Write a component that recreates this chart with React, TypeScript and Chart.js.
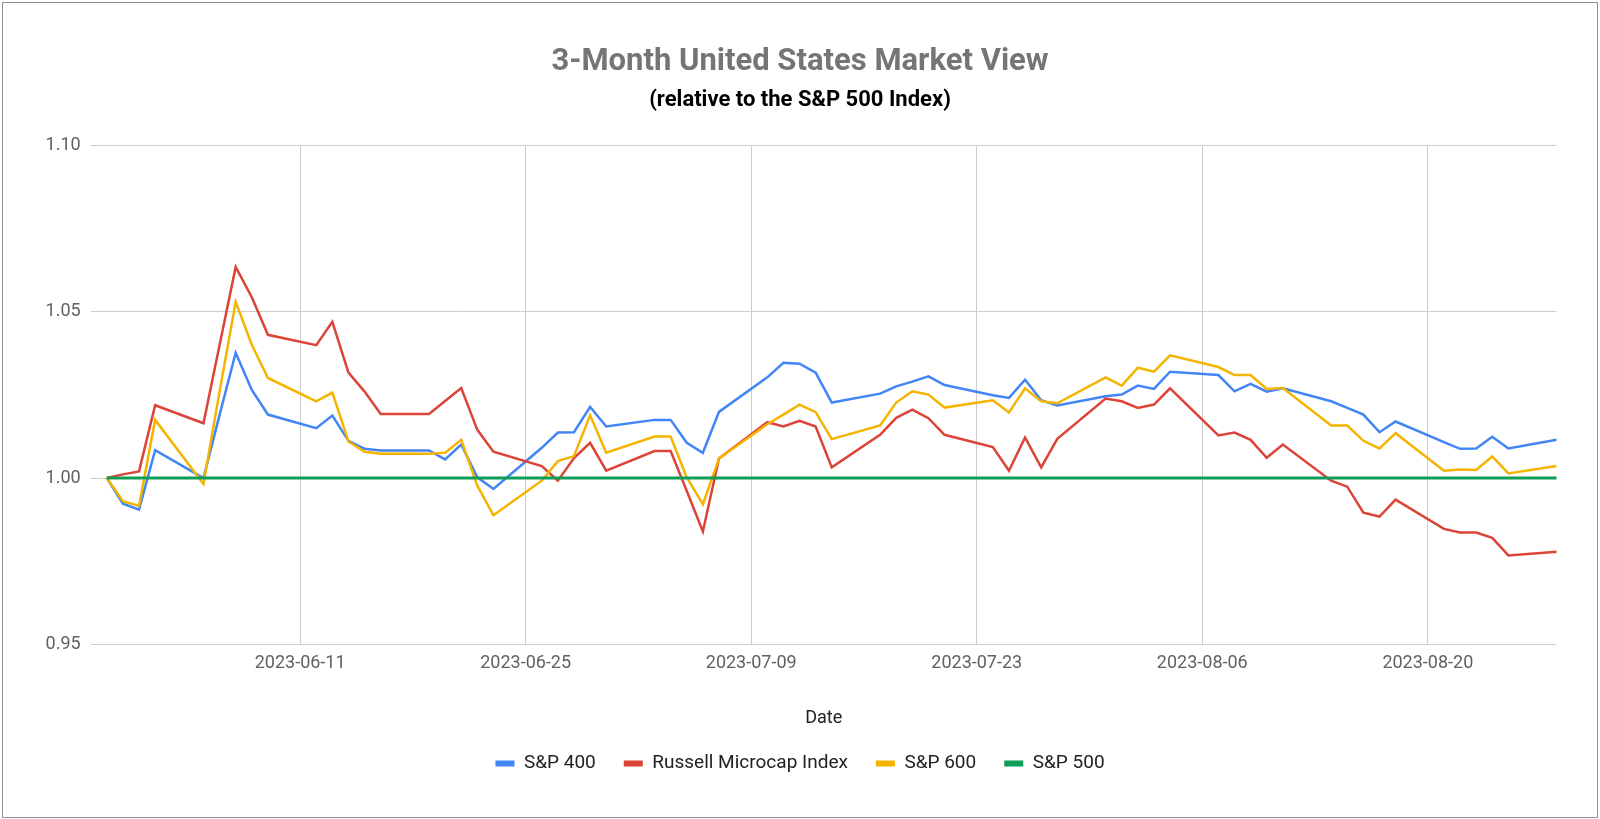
import React, { useEffect, useRef } from "react";
import { Chart, registerables } from "chart.js";

Chart.register(...registerables);

const TITLE = "3-Month United States Market View";
const SUBTITLE = "(relative to the S&P 500 Index)";
const X_TITLE = "Date";

const DATES = [
  "2023-05-30", "2023-05-31", "2023-06-01", "2023-06-02", "2023-06-05", "2023-06-06",
  "2023-06-07", "2023-06-08", "2023-06-09", "2023-06-12", "2023-06-13", "2023-06-14",
  "2023-06-15", "2023-06-16", "2023-06-19", "2023-06-20", "2023-06-21", "2023-06-22",
  "2023-06-23", "2023-06-26", "2023-06-27", "2023-06-28", "2023-06-29", "2023-06-30",
  "2023-07-03", "2023-07-04", "2023-07-05", "2023-07-06", "2023-07-07", "2023-07-10",
  "2023-07-11", "2023-07-12", "2023-07-13", "2023-07-14", "2023-07-17", "2023-07-18",
  "2023-07-19", "2023-07-20", "2023-07-21", "2023-07-24", "2023-07-25", "2023-07-26",
  "2023-07-27", "2023-07-28", "2023-07-31", "2023-08-01", "2023-08-02", "2023-08-03",
  "2023-08-04", "2023-08-07", "2023-08-08", "2023-08-09", "2023-08-10", "2023-08-11",
  "2023-08-14", "2023-08-15", "2023-08-16", "2023-08-17", "2023-08-18", "2023-08-21",
  "2023-08-22", "2023-08-23", "2023-08-24", "2023-08-25", "2023-08-28",
];

const SP400 = [
  1.0, 0.9923, 0.9905, 1.0084, 1.0, 1.019,
  1.0377, 1.0265, 1.0191, 1.015, 1.0188, 1.0112,
  1.0088, 1.0083, 1.0083, 1.0056, 1.0101, 1.0002,
  0.9967, 1.0091, 1.0137, 1.0138, 1.0214, 1.0155,
  1.0175, 1.0175, 1.0106, 1.0076, 1.0199, 1.0303,
  1.0347, 1.0344, 1.0317, 1.0227, 1.0254, 1.0276,
  1.029, 1.0306, 1.028, 1.0249, 1.0241, 1.0296,
  1.0234, 1.0218, 1.0246, 1.0251, 1.0278, 1.0268,
  1.032, 1.031, 1.0261, 1.0283, 1.026, 1.027,
  1.0231, 1.0211, 1.0191, 1.0138, 1.017, 1.0108,
  1.0088, 1.0089, 1.0124, 1.0089, 1.0115,
];

const RUSSELL_MICRO = [
  1.0, 1.0011, 1.002, 1.0219, 1.0165, 1.04,
  1.0635, 1.0544, 1.0431, 1.04, 1.047, 1.0317,
  1.026, 1.0193, 1.0193, 1.0232, 1.0271, 1.0145,
  1.0079, 1.0036, 0.9992, 1.006, 1.0106, 1.0022,
  1.0081, 1.0081, 0.9961, 0.9839, 1.0059, 1.0168,
  1.0155, 1.0172, 1.0155, 1.0032, 1.013, 1.0181,
  1.0206, 1.018, 1.013, 1.0093, 1.0022, 1.0122,
  1.0032, 1.0118, 1.0239, 1.0231, 1.0211, 1.0221,
  1.027, 1.0128, 1.0137, 1.0115, 1.0061, 1.0101,
  0.9992, 0.9974, 0.9896, 0.9884, 0.9935, 0.9847,
  0.9836, 0.9836, 0.982, 0.9767, 0.9778,
];

const SP600 = [
  1.0, 0.993, 0.9916, 1.0175, 0.9982, 1.026,
  1.053, 1.0401, 1.0301, 1.0231, 1.0257, 1.011,
  1.0079, 1.0073, 1.0073, 1.0076, 1.0115, 0.9977,
  0.9888, 0.9992, 1.0051, 1.0066, 1.0189, 1.0076,
  1.0125, 1.0125, 1.0002, 0.9921, 1.0059, 1.0162,
  1.0191, 1.0221, 1.0198, 1.0117, 1.0158, 1.0227,
  1.0261, 1.0251, 1.0212, 1.0234, 1.0197, 1.027,
  1.0231, 1.0225, 1.0303, 1.0278, 1.0332, 1.032,
  1.0369, 1.0334, 1.031, 1.031, 1.0268, 1.0271,
  1.0158, 1.0158, 1.0112, 1.0089, 1.0135, 1.0022,
  1.0026, 1.0024, 1.0065, 1.0014, 1.0036,
];

const SP500 = [
  1, 1, 1, 1, 1, 1, 1, 1, 1, 1, 1, 1, 1, 1, 1, 1, 1, 1, 1, 1, 1, 1,
  1, 1, 1, 1, 1, 1, 1, 1, 1, 1, 1, 1, 1, 1, 1, 1, 1, 1, 1, 1, 1, 1,
  1, 1, 1, 1, 1, 1, 1, 1, 1, 1, 1, 1, 1, 1, 1, 1, 1, 1, 1, 1, 1,
];

const SERIES_NAMES = ["S&P 400", "Russell Microcap Index", "S&P 600", "S&P 500"];
const SERIES_COLORS = ["#4285F4", "#DB4437", "#F4B400", "#0F9D58"];

const TICK_LABELS = ["2023-06-11", "2023-06-25", "2023-07-09", "2023-07-23", "2023-08-06", "2023-08-20"];
const X_MIN_DATE = "2023-05-29";
const X_MAX_DATE = "2023-08-28";
const Y_TICKS = [0.95, 1.0, 1.05, 1.1];

const DAY_MS = 86400000;
const BASE = Date.UTC(2023, 4, 30);
const dayOf = (s: string) => Math.round((Date.parse(s + "T00:00:00Z") - BASE) / DAY_MS);
const labelOf = (d: number) => new Date(BASE + Math.round(d) * DAY_MS).toISOString().slice(0, 10);

export default function App() {
  const ref = useRef<HTMLCanvasElement | null>(null);

  useEffect(() => {
    if (!ref.current) return;
    Chart.defaults.font.family = "Roboto";
    const seriesValues = [SP400, RUSSELL_MICRO, SP600, SP500];
    const orders = [3, 2, 1, 0];
    const datasets = seriesValues.map((vals, i) => ({
      label: SERIES_NAMES[i],
      data: vals.map((v, j) => ({ x: dayOf(DATES[j]), y: v })),
      borderColor: SERIES_COLORS[i],
      backgroundColor: SERIES_COLORS[i],
      borderWidth: i === 3 ? 3 : 2.5,
      pointRadius: 0,
      pointHoverRadius: 0,
      tension: 0,
      order: orders[i],
    }));

    const chart = new Chart(ref.current, {
      type: "line",
      data: { datasets },
      options: {
        animation: false,
        responsive: false,
        devicePixelRatio: 1,
        layout: { padding: { left: 43.3, right: 43.3, top: 0, bottom: 36 } },
        plugins: {
          title: {
            display: true,
            text: TITLE,
            color: "#757575",
            font: { family: "Roboto", size: 31, weight: "bold", lineHeight: 1.2 },
            padding: { top: 43.4, bottom: 3 },
          },
          subtitle: {
            display: true,
            text: SUBTITLE,
            color: "#000000",
            font: { family: "Roboto", size: 22, weight: "bold", lineHeight: 1.2 },
            padding: { top: 3.2, bottom: 32.5 },
          },
          legend: {
            display: true,
            position: "bottom",
            labels: {
              color: "#222222",
              font: { family: "Roboto", size: 19 },
              boxWidth: 19,
              boxHeight: 6,
              padding: 28,
              sort: (a: any, b: any) => a.datasetIndex - b.datasetIndex,
              generateLabels: (c: any) =>
                Chart.defaults.plugins.legend.labels
                  .generateLabels(c)
                  .map((it: any) => ({ ...it, lineWidth: 0 })),
            },
          },
          tooltip: { enabled: false },
        },
        scales: {
          x: {
            type: "linear",
            min: dayOf(X_MIN_DATE),
            max: dayOf(X_MAX_DATE),
            afterBuildTicks: (scale: any) => {
              scale.ticks = TICK_LABELS.map((l) => ({ value: dayOf(l) }));
            },
            ticks: {
              autoSkip: false,
              maxRotation: 0,
              padding: 8.5,
              color: "#616161",
              font: { family: "Roboto", size: 18 },
              callback: (v: any) => labelOf(Number(v)),
            },
            grid: { color: "#cccccc", lineWidth: 1, drawTicks: false },
            border: { display: false },
            title: {
              display: true,
              text: X_TITLE,
              color: "#222222",
              font: { family: "Roboto", size: 18, lineHeight: 1.2 },
              padding: { top: 24.4, bottom: -2.8 },
            },
          },
          y: {
            type: "linear",
            min: Y_TICKS[0],
            max: Y_TICKS[Y_TICKS.length - 1],
            afterFit: (scale: any) => {
              scale.width = 47.4;
            },
            afterBuildTicks: (scale: any) => {
              scale.ticks = Y_TICKS.map((v) => ({ value: v }));
            },
            ticks: {
              padding: 10,
              color: "#616161",
              font: { family: "Roboto", size: 18 },
              callback: (v: any) => Number(v).toFixed(2),
            },
            grid: { color: "#cccccc", lineWidth: 1, drawTicks: false },
            border: { display: false },
          },
        },
      },
    } as any);
    return () => chart.destroy();
  }, []);

  return (
    <div style={{ position: "fixed", left: 0, top: 0, width: 1600, height: 819, background: "#ffffff" }}>
      <canvas ref={ref} width={1600} height={819} style={{ position: "absolute", left: 0, top: 0, width: 1600, height: 819 }} />
      <div
        style={{
          position: "absolute",
          left: 2,
          top: 2,
          width: 1594,
          height: 814,
          border: "1px solid #8f8f8f",
          pointerEvents: "none",
        }}
      />
    </div>
  );
}
